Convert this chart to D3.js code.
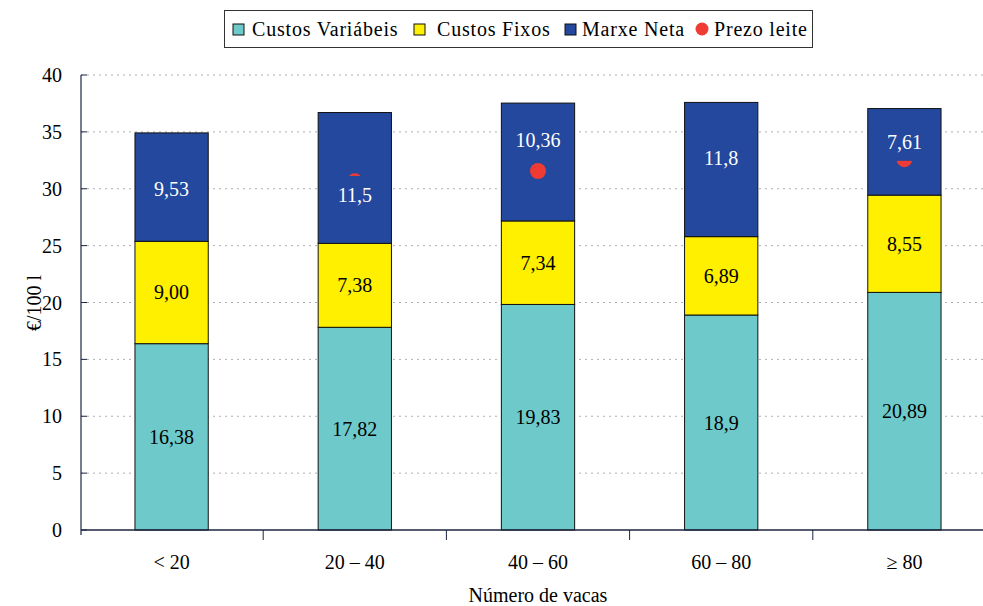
<!DOCTYPE html>
<html><head><meta charset="utf-8">
<script src="https://cdn.jsdelivr.net/npm/d3@7"></script>
<style>body{margin:0;background:#fff}svg{display:block}</style>
</head><body><svg id="c" width="983" height="606"></svg>
<script>
const categories = ["< 20", "20 – 40", "40 – 60", "60 – 80", "≥ 80"];
const custosVariabeis = [16.38, 17.82, 19.83, 18.9, 20.89];
const custosFixos = [9.00, 7.38, 7.34, 6.89, 8.55];
const marxeNeta = [9.53, 11.5, 10.36, 11.8, 7.61];
const prezoLeite = [30.0, 30.65, 31.56, 32.6, 32.6];
const varLabels = ["16,38", "17,82", "19,83", "18,9", "20,89"];
const fixLabels = ["9,00", "7,38", "7,34", "6,89", "8,55"];
const marxeLabels = ["9,53", "11,5", "10,36", "11,8", "7,61"];
const yTicks = [0, 5, 10, 15, 20, 25, 30, 35, 40];
// manual label nudges for Marxe Neta labels (pixels), like in the original
const marxeLabelNudge = [2, 17, -22, -12, -10];

const colors = {v: "#6ECACA", f: "#FFF000", m: "#23489D", p: "#EE3B33"};
const font = "'Liberation Serif', 'Times New Roman', serif";
const svg = d3.select("#c");
const m = {l: 81, r: 996, t: 75, b: 530};
const x = d3.scaleBand().domain(categories).range([80, 996]).paddingInner(0).paddingOuter(0);
const y = d3.scaleLinear().domain([0, 40]).range([m.b, m.t]);
const bw = x.bandwidth() * 0.4;

// gridlines
svg.append("g").selectAll("line").data(yTicks.filter(d => d > 0)).join("line")
  .attr("x1", m.l).attr("x2", 983).attr("y1", d => y(d)).attr("y2", d => y(d))
  .attr("stroke", "#b0b0b0").attr("stroke-width", 1).attr("stroke-dasharray", "2,4");

const rows = categories.map((c, i) => ({c, i, v: custosVariabeis[i], f: custosFixos[i], mn: marxeNeta[i], p: prezoLeite[i]}));
const cx = d => x(d.c) + x.bandwidth() / 2;
const g = svg.append("g");
function seg(y0f, y1f, fill) {
  g.selectAll(null).data(rows).join("rect")
    .attr("x", d => cx(d) - bw / 2).attr("width", bw)
    .attr("y", d => y(y1f(d))).attr("height", d => y(y0f(d)) - y(y1f(d)))
    .attr("fill", fill).attr("stroke", "#111").attr("stroke-width", 1);
}
seg(d => 0, d => d.v, colors.v);
seg(d => d.v, d => d.v + d.f, colors.f);
seg(d => d.v + d.f, d => d.v + d.f + d.mn, colors.m);

// prezo leite dots
g.selectAll("circle").data(rows).join("circle")
  .attr("cx", cx).attr("cy", d => y(d.p)).attr("r", 8).attr("fill", colors.p);

// labels
const lab = svg.append("g").attr("font-family", font).attr("font-size", 20).attr("text-anchor", "middle");
rows.forEach((d, i) => {
  lab.append("text").attr("x", cx(d)).attr("y", y(d.v / 2)).attr("dy", "0.35em").attr("fill", "#000").text(varLabels[i]);
  lab.append("text").attr("x", cx(d)).attr("y", y(d.v + d.f / 2)).attr("dy", "0.35em").attr("fill", "#000").text(fixLabels[i]);
  const ly = y(d.v + d.f + d.mn / 2) + marxeLabelNudge[i];
  lab.append("rect").attr("x", cx(d) - 26).attr("width", 52).attr("y", ly - 19).attr("height", 38).attr("fill", colors.m);
  lab.append("text").attr("x", cx(d)).attr("y", ly).attr("dy", "0.35em").attr("fill", "#fff").text(marxeLabels[i]);
});

// axes
const axCol = "#1c2640";
svg.append("line").attr("x1", m.l).attr("x2", m.l).attr("y1", m.t).attr("y2", m.b + 5).attr("stroke", axCol).attr("stroke-width", 1.2);
svg.append("line").attr("x1", m.l).attr("x2", 983).attr("y1", m.b).attr("y2", m.b).attr("stroke", axCol).attr("stroke-width", 1.5);
svg.append("g").selectAll("line").data(yTicks).join("line")
  .attr("x1", m.l).attr("x2", m.l + 6).attr("y1", d => y(d)).attr("y2", d => y(d)).attr("stroke", axCol);
svg.append("g").selectAll("line").data(categories.slice(1)).join("line")
  .attr("x1", d => x(d)).attr("x2", d => x(d)).attr("y1", m.b).attr("y2", m.b + 10).attr("stroke", axCol);
svg.append("g").attr("font-family", font).attr("font-size", 20).attr("text-anchor", "end")
  .selectAll("text").data(yTicks).join("text")
  .attr("x", 62).attr("y", d => y(d)).attr("dy", "0.35em").text(d => d);
svg.append("g").attr("font-family", font).attr("font-size", 20).attr("text-anchor", "middle")
  .selectAll("text").data(categories).join("text")
  .attr("x", d => x(d) + x.bandwidth() / 2).attr("y", 562).attr("dy", "0.35em").text(d => d);
svg.append("text").attr("font-family", font).attr("font-size", 20).attr("text-anchor", "middle")
  .attr("x", 538).attr("y", 602).text("Número de vacas");
svg.append("text").attr("font-family", font).attr("font-size", 20).attr("text-anchor", "middle")
  .attr("transform", "translate(34,303) rotate(-90)").attr("dy", "0.35em").text("€/100 l");

// legend
const lg = svg.append("g");
lg.append("rect").attr("x", 224.5).attr("y", 10.5).attr("width", 588).attr("height", 37).attr("fill", "#fff").attr("stroke", "#333");
const items = [
  {t: "Custos Variábeis", c: colors.v, x: 233, tx: 252},
  {t: "Custos Fixos", c: colors.f, x: 414, tx: 437},
  {t: "Marxe Neta", c: colors.m, x: 565, tx: 582},
  {t: "Prezo leite", c: colors.p, x: 696, tx: 714, circle: true}
];
items.forEach(it => {
  if (it.circle) lg.append("circle").attr("cx", it.x + 6).attr("cy", 29).attr("r", 6.5).attr("fill", it.c);
  else lg.append("rect").attr("x", it.x).attr("y", 24).attr("width", 11).attr("height", 11).attr("fill", it.c).attr("stroke", "#111");
  lg.append("text").attr("x", it.tx).attr("y", 29).attr("dy", "0.35em").attr("font-family", font)
    .attr("font-size", 20).attr("letter-spacing", 0.8).text(it.t);
});
</script></body></html>
